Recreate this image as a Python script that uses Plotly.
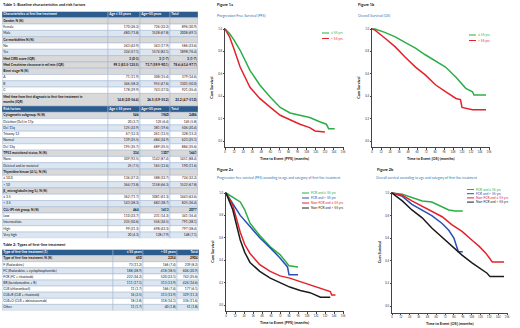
import plotly.graph_objects as go

W, H = 520, 328
FONT = "Lato"

# ---------------- Table 1 data ----------------
t1_label = [
    "Characteristics at first line treatment",
    "Gender, N (%)", "Female", "Male",
    "Co-morbidities N (%)", "No", "Yes",
    "Med CIRS score (IQR)",
    "Med Creatinine clearance in ml/min (IQR)",
    "Binet stage N (%)", "A", "B", "C",
    "Med time from first diagnosis to first-line treatment in<br>months (IQR)",
    "Risk factors",
    "Cytogenetic subgroup, N (%)", "Deletion (Del) in 17p", "Del 11q", "Trisomy 12", "Normal", "Del 13q",
    "TP53 mutational status, N (%)", "None", "Deleted and/or mutated",
    "Thymidine kinase (U/L), N (%)", "≤ 10.0", "> 10",
    "β<sub>2</sub> microglobulin (mg/L), N (%)", "≤ 3.5", "> 3.5",
    "CLL-IPI risk group, N (%)", "Low", "Intermediate", "High", "Very high",
]
t1_le55 = ["Age ≤ 55 years", "", "170 (26.2)", "480 (73.8)", "", "243 (42.9)", "324 (57.1)", "3 (0-3)",
           "99.3 (83.5-125.5)", "", "71 (11.9)", "346 (58.2)", "178 (29.9)", "14.8 (2.0-56.4)",
           "Age ≤ 55 years", "546", "20 (3.7)", "125 (22.9)", "67 (12.3)", "139 (25.5)", "195 (35.7)",
           "334", "309 (92.5)", "25 (7.5)", "", "136 (27.2)", "364 (72.8)", "", "362 (71.7)", "143 (28.3)",
           "464", "110 (23.7)", "235 (50.6)", "99 (21.3)", "20 (4.3)"]
t1_gt55 = ["Age>55 years", "", "726 (32.2)", "1528 (67.8)", "", "343 (17.9)", "1574 (82.1)", "3 (1-7)",
           "73.7 (59.9-90.1)", "", "308 (15.4)", "955 (47.6)", "743 (37.0)", "26.5 (5.9-55.2)",
           "Age>55 years", "1940", "125 (6.4)", "381 (19.6)", "261 (13.5)", "484 (24.9)", "689 (35.5)",
           "1307", "1142 (87.4)", "165 (12.6)", "", "588 (33.7)", "1158 (66.3)", "", "1081 (61.3)", "682 (38.7)",
           "1613", "231 (14.3)", "556 (34.5)", "698 (43.3)", "128 (7.9)"]
t1_total = ["Total", "", "896 (30.9)", "2008 (69.1)", "", "586 (23.6)", "1898 (76.4)", "3 (1-7)",
            "78.6 (63.4-97.7)", "", "379 (14.6)", "1301 (50.0)", "921 (35.4)", "23.2 (4.7-51.0)",
            "Total", "2486", "145 (5.8)", "506 (20.4)", "328 (13.2)", "623 (25.1)", "884 (35.6)",
            "1641", "1451 (88.4)", "190 (11.6)", "", "724 (32.2)", "1522 (67.8)", "", "1443 (63.6)", "825 (36.4)",
            "2077", "341 (16.4)", "791 (38.1)", "797 (38.4)", "148 (7.1)"]
t1_kind = (["head", "sec", "item", "item", "sec", "item", "item", "sec", "sec", "sec", "item", "item", "item",
            "sec", "head", "sec"] + ["item"] * 5 + ["sec", "item", "item", "sec", "item", "item",
            "sec", "item", "item", "sec"] + ["item"] * 4)

# ---------------- Table 2 data ----------------
t2_label = ["Type of first-line treatment (1)", "Type of first-line treatment, N (%)", "F (fludarabine)",
            "FC (fludarabine + cyclophosphamide)", "FCR (FC + rituximab)", "BR (bendamustine + R)",
            "CLB (chlorambucil)", "CLB+R (CLB + rituximab)", "CLB+O (CLB + obinutuzumab)", "Other"]
t2_le55 = ["≤ 55 years", "650", "73 (11.2)", "188 (28.9)", "222 (34.2)", "111 (17.1)", "11 (1.7)",
           "16 (2.5)", "18 (2.8)", "11 (1.7)"]
t2_gt55 = ["> 55 years", "2254", "166 (7.4)", "418 (18.5)", "520 (23.1)", "313 (13.9)", "166 (7.4)",
           "313 (13.9)", "318 (14.1)", "40 (1.8)"]
t2_total = ["Total", "2904", "239 (8.2)", "606 (20.9)", "742 (25.6)", "424 (14.6)", "177 (6.1)",
            "329 (11.3)", "336 (11.6)", "51 (1.8)"]
t2_kind = ["head", "sec"] + ["item"] * 8

# ---------------- Kaplan-Meier data (months, cumulative survival) ----------------
f1a_t_le55 = [0, 6, 12, 20, 33, 46, 60, 73, 86, 99, 112, 126, 134, 137, 145]
f1a_s_le55 = [1.0, 0.96, 0.90, 0.81, 0.63, 0.50, 0.39, 0.30, 0.25, 0.23, 0.21, 0.17, 0.15, 0.11, 0.11]
f1a_t_gt55 = [0, 6, 12, 20, 33, 46, 60, 73, 86, 99, 112, 119, 132]
f1a_s_gt55 = [1.0, 0.93, 0.82, 0.66, 0.48, 0.38, 0.30, 0.23, 0.19, 0.15, 0.12, 0.09, 0.08]

f1b_t_le55 = [0, 4, 17, 31, 44, 58, 71, 85, 98, 112, 125, 134, 136, 152]
f1b_s_le55 = [1.0, 1.0, 0.97, 0.93, 0.88, 0.83, 0.77, 0.71, 0.66, 0.57, 0.47, 0.44, 0.41, 0.41]
f1b_t_gt55 = [0, 4, 17, 31, 44, 58, 71, 85, 98, 112, 118, 120, 134, 152]
f1b_s_gt55 = [1.0, 0.99, 0.92, 0.84, 0.75, 0.66, 0.59, 0.50, 0.44, 0.38, 0.37, 0.30, 0.28, 0.28]

f2a_t_fcr_le55 = [0, 9, 19, 25, 32, 45, 59, 72, 81, 84, 96]
f2a_s_fcr_le55 = [1.0, 0.96, 0.92, 0.85, 0.73, 0.62, 0.52, 0.45, 0.38, 0.35, 0.34]
f2a_t_fcr_gt55 = [0, 12, 19, 32, 45, 59, 72, 82, 84, 96]
f2a_s_fcr_gt55 = [1.0, 0.87, 0.80, 0.70, 0.60, 0.51, 0.42, 0.34, 0.27, 0.27]
f2a_t_non_le55 = [0, 9, 19, 25, 32, 45, 59, 72, 85, 99, 112, 126, 139, 141, 146]
f2a_s_non_le55 = [1.0, 0.89, 0.65, 0.54, 0.46, 0.36, 0.30, 0.26, 0.24, 0.21, 0.18, 0.15, 0.12, 0.09, 0.09]
f2a_t_non_gt55 = [0, 9, 19, 25, 32, 45, 59, 72, 85, 99, 112, 126, 139]
f2a_s_non_gt55 = [1.0, 0.85, 0.58, 0.47, 0.38, 0.30, 0.24, 0.20, 0.16, 0.13, 0.11, 0.07, 0.07]

f2b_t_fcr_le55 = [0, 14, 27, 41, 54, 68, 77, 86, 96]
f2b_s_fcr_le55 = [1.0, 0.99, 0.96, 0.93, 0.92, 0.88, 0.85, 0.84, 0.84]
f2b_t_fcr_gt55 = [0, 14, 27, 41, 54, 68, 77, 84, 88, 90, 96]
f2b_s_fcr_gt55 = [1.0, 0.97, 0.90, 0.85, 0.80, 0.73, 0.67, 0.60, 0.53, 0.48, 0.48]
f2b_t_non_le55 = [0, 14, 27, 41, 54, 68, 81, 95, 109, 118, 127, 133, 136, 152]
f2b_s_non_le55 = [1.0, 0.98, 0.93, 0.88, 0.84, 0.79, 0.72, 0.66, 0.58, 0.53, 0.47, 0.42, 0.39, 0.39]
f2b_t_non_gt55 = [0, 14, 27, 41, 54, 68, 81, 95, 109, 122, 129, 133, 152]
f2b_s_non_gt55 = [1.0, 0.93, 0.85, 0.78, 0.69, 0.61, 0.53, 0.45, 0.38, 0.32, 0.29, 0.26, 0.26]

month_ticks = list(range(0, 157, 12))
surv_ticks = [0.0, 0.2, 0.4, 0.6, 0.8, 1.0]

leg1_names = ["≤ 55 yrs", "> 55 yrs"]
leg2_names = ["FCR and ≤ 55 yrs", "FCR and > 55 yrs", "Non-FCR and ≤ 55 yrs", "Non-FCR and > 55 yrs"]

GREEN, RED, BLUE, BLACK = "#2BAE48", "#E3232B", "#2850B5", "#1C1C1C"
SUBBLUE = "#2E74B5"

fig = go.Figure()


def py(p):
    return 1 - p / H


def pxx(p):
    return p / W


def sfx(n):
    return "" if n == 1 else str(n)


BORDER = "#A3B6D0"
FILL = {"head": "#2C5B8E", "sec": "#D9D9D9", "even": "#FFFFFF", "odd": "#DCE6F1"}
PAD = 1.3


def add_table(n, labels, c1, c2, c3, kinds, edges, top, row_h, head_left):
    s = sfx(n)
    units = [l.count("<br>") + 1 for l in labels]
    total = sum(units)
    fig.update_layout(**{
        f"xaxis{s}": dict(domain=[pxx(edges[0]), pxx(edges[-1])], range=[edges[0], edges[-1]],
                          visible=False, fixedrange=True),
        f"yaxis{s}": dict(domain=[py(top + total * row_h), py(top)], range=[total, 0],
                          visible=False, fixedrange=True),
    })
    fills, k = [], 0
    for kind in kinds:
        if kind in ("head", "sec"):
            k = 0
            fills.append(FILL[kind])
        else:
            fills.append(FILL["even"] if k % 2 == 0 else FILL["odd"])
            k += 1
    centers, start = [], 0
    for u, f in zip(units, fills):
        for j in range(4):
            fig.add_shape(type="rect", xref=f"x{s}", yref=f"y{s}", x0=edges[j], x1=edges[j + 1],
                          y0=start, y1=start + u, fillcolor=f, line=dict(color=BORDER, width=0.5),
                          layer="below")
        centers.append(start + u / 2)
        start += u
    for j, col in enumerate([labels, c1, c2, c3]):
        xs, ys, txt, pos, colr = [], [], [], [], []
        for i, t in enumerate(col):
            if not t:
                continue
            kind = kinds[i]
            left = (j == 0) or (kind == "head" and head_left)
            xs.append(edges[j] + PAD if left else edges[j + 1] - PAD)
            ys.append(centers[i])
            pos.append("middle right" if left else "middle left")
            if kind != "item":
                t = "<br>".join(f"<b>{p}</b>" for p in t.split("<br>"))
            txt.append(t)
            colr.append("white" if kind == "head" else "#111111")
        fig.add_trace(go.Scatter(x=xs, y=ys, mode="text", text=txt, textposition=pos,
                                 textfont=dict(family=FONT, size=3.3, color=colr),
                                 xaxis=f"x{s}", yaxis=f"y{s}", showlegend=False,
                                 hoverinfo="skip", cliponaxis=False))


add_table(5, t1_label, t1_le55, t1_gt55, t1_total, t1_kind, [2, 108, 140, 170, 198], 11.5, 6.3, True)
add_table(6, t2_label, t2_le55, t2_gt55, t2_total, t2_kind, [2, 113, 143, 177, 199], 249.5, 6.1, False)


def add_km(n, x0, x156, y1, y0, series, xtitle):
    s = sfx(n)
    ppm = (x156 - x0) / 156
    x_end = x0 + 157 * ppm
    ppu = y0 - y1
    top = y1 - 0.01 * ppu
    bot = y0 + 0.058 * ppu
    axcommon = dict(showline=True, linecolor="#444", linewidth=0.6, showgrid=False, zeroline=False,
                    ticks="outside", ticklen=1.5, tickwidth=0.5, tickcolor="#444",
                    tickfont=dict(family=FONT, size=2.8, color="#333"), automargin=False, fixedrange=True)
    fig.update_layout(**{
        f"xaxis{s}": dict(axcommon, domain=[pxx(x0), pxx(x_end)], range=[0, 157], tickvals=month_ticks,
                          anchor=f"y{s}"),
        f"yaxis{s}": dict(axcommon, domain=[py(bot), py(top)], range=[-0.058, 1.01], tickvals=surv_ticks,
                          tickformat=".1f", anchor=f"x{s}"),
    })
    # axis titles, placed relative to each subplot's domain
    fig.add_annotation(xref=f"x{s} domain", yref=f"y{s} domain", x=0.5, y=0, yshift=-7.5,
                       xanchor="center", yanchor="top", showarrow=False, borderpad=0,
                       text=f"<b>{xtitle}</b>", font=dict(family=FONT, size=3.8, color="#111"))
    fig.add_annotation(xref=f"x{s} domain", yref=f"y{s} domain", x=0, y=0.5, xshift=-9.5,
                       xanchor="right", yanchor="middle", textangle=-90, showarrow=False, borderpad=0,
                       text="<b>Cum Survival</b>", font=dict(family=FONT, size=3.8, color="#111"))
    for t, sv, c, name in series:
        fig.add_trace(go.Scatter(x=t, y=sv, mode="lines", line=dict(color=c, width=1.5),
                                 name=name, showlegend=False, xaxis=f"x{s}", yaxis=f"y{s}"))


add_km(1, 225, 343, 29, 141, [(f1a_t_le55, f1a_s_le55, GREEN, leg1_names[0]),
                              (f1a_t_gt55, f1a_s_gt55, RED, leg1_names[1])],
       "Time to Event [PFS] (months)")
add_km(2, 372, 489, 29, 141, [(f1b_t_le55, f1b_s_le55, GREEN, leg1_names[0]),
                              (f1b_t_gt55, f1b_s_gt55, RED, leg1_names[1])],
       "Time to Event [OS] (months)")
add_km(3, 226, 343, 193, 305, [(f2a_t_fcr_le55, f2a_s_fcr_le55, GREEN, leg2_names[0]),
                               (f2a_t_fcr_gt55, f2a_s_fcr_gt55, BLUE, leg2_names[1]),
                               (f2a_t_non_le55, f2a_s_non_le55, RED, leg2_names[2]),
                               (f2a_t_non_gt55, f2a_s_non_gt55, BLACK, leg2_names[3])],
       "Time to Event [PFS] (months)")
add_km(4, 392, 507, 193, 306, [(f2b_t_fcr_le55, f2b_s_fcr_le55, GREEN, leg2_names[0]),
                               (f2b_t_fcr_gt55, f2b_s_fcr_gt55, BLUE, leg2_names[1]),
                               (f2b_t_non_le55, f2b_s_non_le55, RED, leg2_names[2]),
                               (f2b_t_non_gt55, f2b_s_non_gt55, BLACK, leg2_names[3])],
       "Time to Event [OS] (months)")


def add_legend(names, colors, lx, ly, dy, seg=7):
    for i, (nm, c) in enumerate(zip(names, colors)):
        yy = py(ly + i * dy)
        fig.add_shape(type="line", xref="paper", yref="paper", x0=pxx(lx), x1=pxx(lx + seg),
                      y0=yy, y1=yy, line=dict(color=c, width=1))
        fig.add_annotation(xref="paper", yref="paper", x=pxx(lx + seg + 1), y=yy, text=nm, showarrow=False,
                           xanchor="left", yanchor="middle", borderpad=0,
                           font=dict(family=FONT, size=3.3, color=c))


add_legend(leg1_names, [GREEN, RED], 322, 33, 5.5)
add_legend(leg1_names, [GREEN, RED], 469, 35, 5.5)
add_legend(leg2_names, [GREEN, BLUE, RED, BLACK], 302, 193, 5)
add_legend(leg2_names, [GREEN, BLUE, RED, BLACK], 467, 189.5, 4.2)


def add_text(x, y, text, size, color, bold=False):
    fig.add_annotation(xref="paper", yref="paper", x=pxx(x), y=py(y), text=f"<b>{text}</b>" if bold else text,
                       showarrow=False, xanchor="left", yanchor="middle", borderpad=0,
                       font=dict(family=FONT, size=size, color=color))


add_text(1.5, 4.5, "Table 1: Baseline characteristics and risk factors", 3.9, "#111", True)
add_text(1.5, 244.5, "Table 2: Types of first-line treatment", 3.9, "#111", True)
add_text(216, 4.5, "Figure 1a", 3.9, "#111", True)
add_text(216, 15, "Progression Free Survival (PFS)", 3.6, SUBBLUE)
add_text(357, 4.5, "Figure 1b", 3.9, "#111", True)
add_text(357, 15, "Overall Survival (OS)", 3.6, SUBBLUE)
add_text(216, 169, "Figure 2a", 3.9, "#111", True)
add_text(216, 177.5, "Progression-free survival (PFS) according to age and category of first-line treatment",
         3.4, SUBBLUE)
add_text(376, 169, "Figure 2b", 3.9, "#111", True)
add_text(375, 177.5, "Overall survival according to age and category of first-line treatment", 3.4, SUBBLUE)

fig.update_layout(width=W, height=H, margin=dict(l=0, r=0, t=0, b=0), paper_bgcolor="white",
                  plot_bgcolor="white", showlegend=False, font=dict(family=FONT))

# remove the browser's default page margin so the 520x328 figure fills the window exactly
fig.write_html("out.html", config={"displayModeBar": False},
               post_script="document.body.style.margin='0';document.body.style.overflow='hidden';")
